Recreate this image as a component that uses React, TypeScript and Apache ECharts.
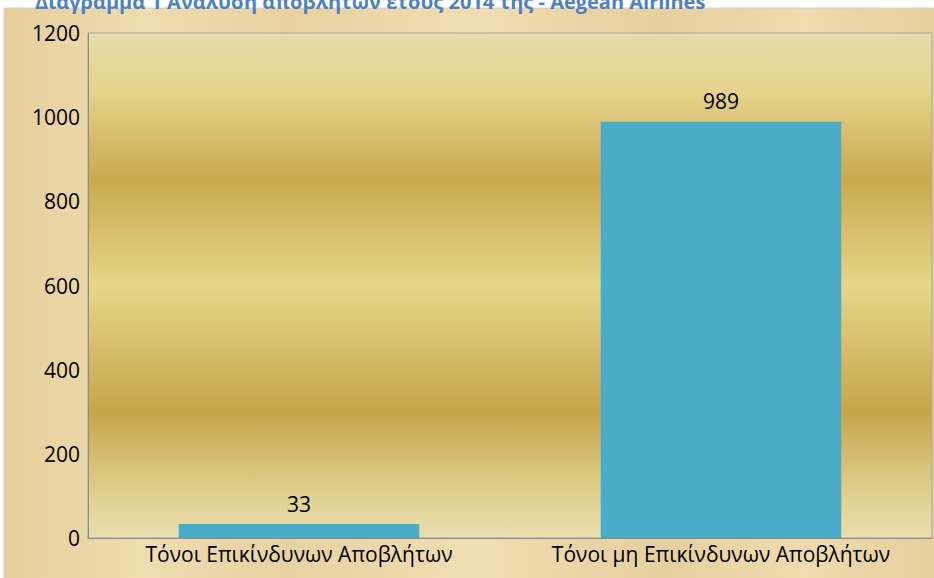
import React, { useEffect, useRef } from "react";
import * as echarts from "echarts";

const categories = ["Τόνοι Επικίνδυνων Αποβλήτων", "Τόνοι μη Επικίνδυνων Αποβλήτων"];
const values = [33, 989];
const titleText = "Διάγραμμα 1 Ανάλυση αποβλήτων έτους 2014 της - Aegean Airlines";
const FONT = "Open Sans";

export default function App() {
  const ref = useRef<HTMLDivElement>(null);
  useEffect(() => {
    const chart = echarts.init(ref.current!, null, { renderer: "svg" });
    const parchment = new echarts.graphic.LinearGradient(0, 0, 1, 0, [
      { offset: 0, color: "#e6cf9c" },
      { offset: 0.15, color: "#efdcb0" },
      { offset: 0.3, color: "#e8d2a2" },
      { offset: 0.5, color: "#f0ddb2" },
      { offset: 0.7, color: "#e7d09f" },
      { offset: 0.85, color: "#efdbaf" },
      { offset: 1, color: "#e6cf9c" },
    ]);
    const plotBg = new echarts.graphic.LinearGradient(0, 0, 0, 1, [
      { offset: 0, color: "#e6dcaa" },
      { offset: 0.12, color: "#e5d38a" },
      { offset: 0.29, color: "#c9a94e" },
      { offset: 0.5, color: "#e7d68a" },
      { offset: 0.75, color: "#c6a54a" },
      { offset: 0.9, color: "#dfcd8a" },
      { offset: 1, color: "#e8dfb0" },
    ]);
    chart.setOption({
      animation: false,
      backgroundColor: "#ffffff",
      graphic: [
        {
          type: "rect",
          shape: { x: 4, y: 8, width: 940, height: 580 },
          style: { fill: parchment, stroke: "#d0d0d0", lineWidth: 1 },
          z: -10,
        },
        {
          type: "text",
          x: 35,
          y: -9,
          style: {
            text: titleText,
            fill: "#4f81bd",
            font: `bold 20px ${FONT}`,
          },
          z: 10,
        },
      ],
      grid: {
        left: 88,
        right: 2,
        top: 33,
        bottom: 40,
        show: true,
        backgroundColor: plotBg,
        borderColor: "#a6a6a6",
        borderWidth: 1,
      },
      xAxis: {
        type: "category",
        data: categories,
        axisLine: { show: true, lineStyle: { color: "#8c8c8c" } },
        axisTick: { show: false },
        axisLabel: {
          color: "#000",
          fontSize: 21,
          fontFamily: FONT,
          margin: 5,
          interval: 0,
          hideOverlap: false,
        },
      },
      yAxis: {
        type: "value",
        min: 0,
        max: 1200,
        interval: 200,
        axisLine: { show: true, lineStyle: { color: "#8c8c8c" } },
        axisTick: { show: false },
        splitLine: { show: false },
        axisLabel: {
          color: "#000",
          fontSize: 21,
          fontFamily: FONT,
          margin: 8,
          formatter: (v: number) => String(v),
        },
      },
      series: [
        {
          type: "bar",
          data: values,
          barWidth: "57%",
          itemStyle: { color: "#4aacc6" },
          label: {
            show: true,
            position: "top",
            distance: 10,
            color: "#000",
            fontSize: 21,
            fontFamily: FONT,
          },
        },
      ],
    });
    return () => chart.dispose();
  }, []);
  return (
    <div
      ref={ref}
      style={{ position: "fixed", left: 0, top: 0, width: 934, height: 578 }}
    />
  );
}
